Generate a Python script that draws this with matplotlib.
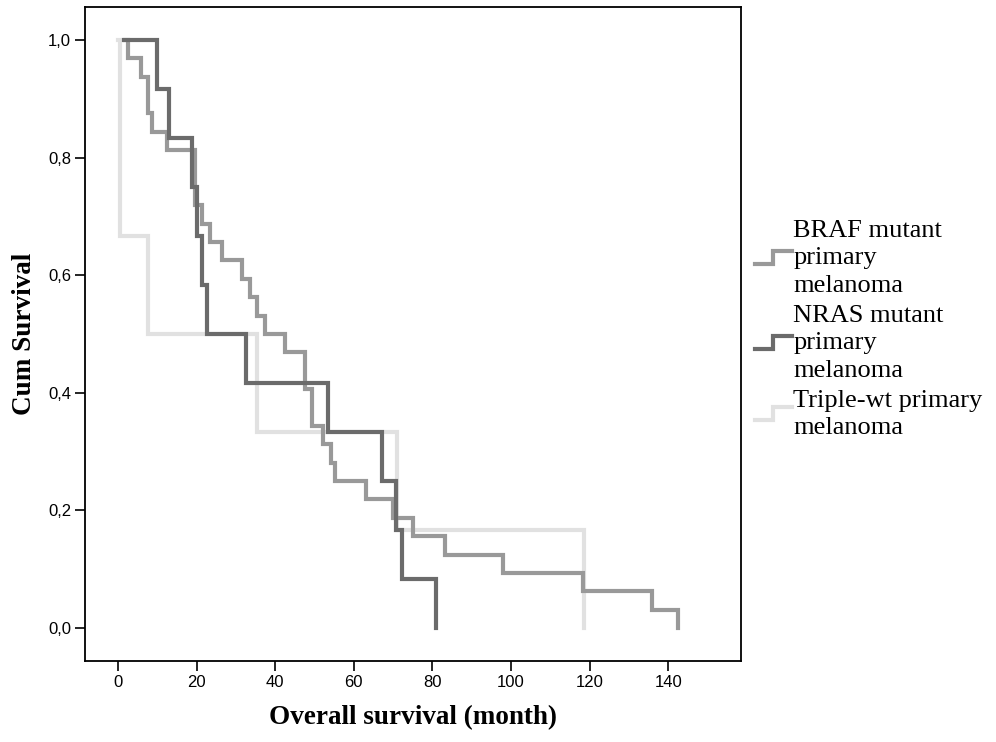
# -*- coding: UTF-8 -*-
import numpy as np
import matplotlib
matplotlib.use('Agg')
import matplotlib.pyplot as plt
from matplotlib.lines import Line2D
from matplotlib.legend_handler import HandlerBase
from matplotlib.ticker import FuncFormatter

# Kaplan-Meier steps (time in months, patients still at risk)
braf_n = 32
braf_start = 1.8
braf_times = [2.6, 5.9, 7.6, 8.7, 12.5, 19.6, 21.5, 23.3, 26.5, 31.6, 33.6, 35.4, 37.4,
              42.5, 47.6, 49.4, 52.2, 54.2, 55.3, 63.0, 70.0, 75.0, 83.2, 98.0, 118.2,
              135.8, 142.5]
braf_left = [31, 30, 28, 27, 26, 23, 22, 21, 20, 19, 18, 17, 16,
             15, 13, 11, 10, 9, 8, 7, 6, 5, 4, 3, 2,
             1, 0]

nras_n = 12
nras_start = 1.5
nras_times = [9.9, 13.0, 18.8, 20.0, 21.3, 22.7, 32.6, 53.4, 67.2, 70.8, 72.3, 80.9]
nras_left = [11, 10, 9, 8, 7, 6, 5, 4, 3, 2, 1, 0]

wt_n = 6
wt_start = 0.0
wt_times = [0.5, 7.7, 35.3, 71.0, 118.7]
wt_left = [4, 3, 2, 1, 0]

labels = ['BRAF mutant\nprimary\nmelanoma',
          'NRAS mutant\nprimary\nmelanoma',
          'Triple-wt primary\nmelanoma']
colors = ['#999999', '#6b6b6b', '#e1e1e1']

x_ticks = [0, 20, 40, 60, 80, 100, 120, 140]
y_ticks = [0.0, 0.2, 0.4, 0.6, 0.8, 1.0]

SERIF = ['Liberation Serif', 'DejaVu Serif']
NARROW = ['Liberation Sans Narrow', 'Liberation Sans', 'DejaVu Sans']


def kmCurve(start, times, left, n):
    x = [start] + list(times)
    y = [1.0] + [k / float(n) for k in left]
    return x, y


#图例里的小台阶
class StepHandler(HandlerBase):
    def create_artists(self, legend, orig_handle, xdescent, ydescent,
                       width, height, fontsize, trans):
        x0 = -xdescent
        y0 = -ydescent
        xs = [x0, x0 + width / 2., x0 + width / 2., x0 + width]
        ys = [y0 + height * 0.1, y0 + height * 0.1, y0 + height * 0.9, y0 + height * 0.9]
        line = Line2D(xs, ys, color=orig_handle.get_color(),
                      lw=orig_handle.get_linewidth(), solid_joinstyle='miter')
        line.set_transform(trans)
        return [line]


fig = plt.figure(figsize=(9.96, 7.42), dpi=100)
ax = fig.add_axes([0.0853, 0.1092, 0.7435 - 0.0853, 0.9906 - 0.1092])

# triple-wt underneath, then BRAF, NRAS on top
x, y = kmCurve(wt_start, wt_times, wt_left, wt_n)
l_wt, = ax.step(x, y, where='post', color=colors[2], lw=3, solid_joinstyle='miter')
x, y = kmCurve(braf_start, braf_times, braf_left, braf_n)
l_braf, = ax.step(x, y, where='post', color=colors[0], lw=3, solid_joinstyle='miter')
x, y = kmCurve(nras_start, nras_times, nras_left, nras_n)
l_nras, = ax.step(x, y, where='post', color=colors[1], lw=3, solid_joinstyle='miter')

ax.set_xlim(-8.4, 158.4)
ax.set_ylim(-0.056, 1.056)
ax.set_xticks(x_ticks)
ax.set_yticks(y_ticks)
ax.yaxis.set_major_formatter(FuncFormatter(lambda v, p: ('%.1f' % v).replace('.', ',')))
ax.tick_params(direction='out', length=7, width=1.2, color='black', pad=3)
for t in ax.get_xticklabels() + ax.get_yticklabels():
    t.set_family(NARROW)
    t.set_fontsize(12)
for s in ax.spines.values():
    s.set_linewidth(1.3)

ax.set_xlabel('Overall survival (month)', family=SERIF, fontsize=19.5, fontweight='bold', labelpad=11)
ax.set_ylabel('Cum Survival', family=SERIF, fontsize=19.5, fontweight='bold', labelpad=8)

leg = fig.legend([l_braf, l_nras, l_wt], labels,
                 handler_map={Line2D: StepHandler()},
                 loc='upper left', bbox_to_anchor=(755 / 996., 1 - 220 / 742.),
                 frameon=False, prop={'family': SERIF, 'size': 19},
                 handlelength=1.4, handleheight=0.6, handletextpad=0.05,
                 labelspacing=0.3, borderpad=0, borderaxespad=0)
for t in leg.get_texts():
    t.set_linespacing(1.32)

plt.savefig('out.png', dpi=100)
plt.close()
